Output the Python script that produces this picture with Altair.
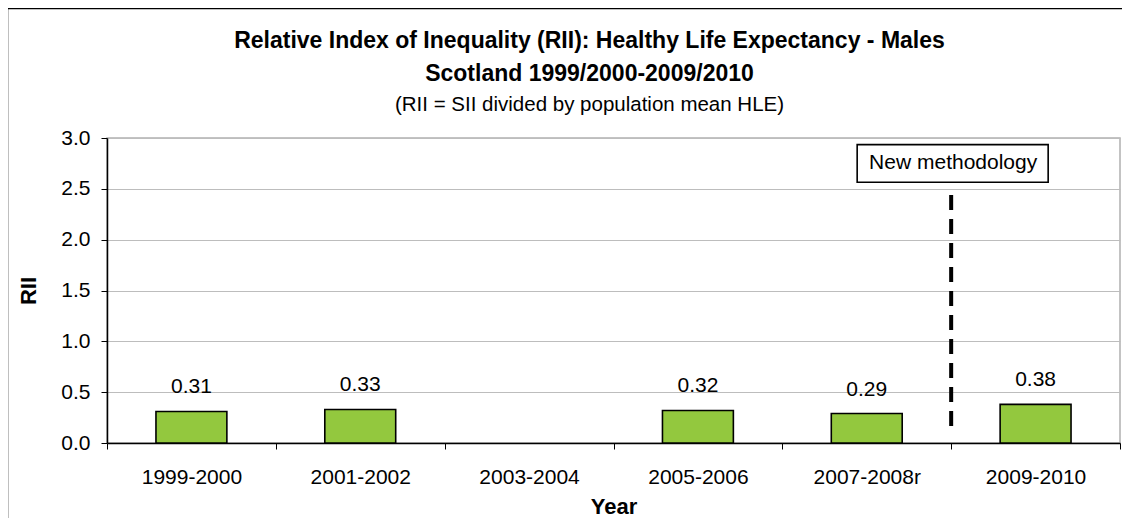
import altair as alt
import pandas as pd

years = ["1999-2000", "2001-2002", "2003-2004", "2005-2006", "2007-2008r", "2009-2010"]
rii = [0.31, 0.33, None, 0.32, 0.29, 0.38]
rii_labels = ["0.31", "0.33", "", "0.32", "0.29", "0.38"]

title_line1 = "Relative Index of Inequality (RII): Healthy Life Expectancy - Males"
title_line2 = "Scotland 1999/2000-2009/2010"
subtitle_text = "(RII = SII divided by population mean HLE)"
method_label = "New methodology"
method_year = "2009-2010"

df = pd.DataFrame({"year": years, "rii": rii, "label": rii_labels})
bars_df = df.dropna(subset=["rii"])

FONT = "Liberation Sans"
W, H = 1013, 305
TITLE_X = 482.5  # centre of the title block, relative to the plot's left edge

xscale = alt.Scale(domain=years, paddingInner=0, paddingOuter=0)
yscale = alt.Scale(domain=[0, 3])

x_enc = alt.X(
    "year:N", scale=xscale, sort=years,
    axis=alt.Axis(
        title="Year", labelAngle=0, tickBand="extent", labelFontSize=21,
        labelFont=FONT, labelColor="black", labelBaseline="alphabetic",
        labelPadding=34, tickSize=6, tickColor="black", domainColor="black",
        domainWidth=1.5, titleFont=FONT, titleFontSize=22, titleFontWeight="bold",
        titleColor="black", titleBaseline="alphabetic", titleY=70, grid=False,
    ),
)
y_enc = alt.Y(
    "rii:Q", scale=yscale,
    axis=alt.Axis(
        title="RII", values=[0, 0.5, 1.0, 1.5, 2.0, 2.5, 3.0], format=".1f",
        labelFontSize=21, labelFont=FONT, labelColor="black", labelPadding=11,
        tickSize=6, tickColor="black", domainColor="black", domainWidth=1.5,
        gridColor="#bdbdbd", gridWidth=1.2, titleFont=FONT, titleFontSize=22,
        titleFontWeight="bold", titleColor="black", titleX=-79, titleY=H / 2,
        titleBaseline="middle", titleAngle=270,
    ),
)

base = alt.Chart(bars_df)

bars = base.mark_bar(
    width=alt.RelativeBandSize(0.42), color="#93C83E", stroke="black", strokeWidth=1.6
).encode(x=x_enc, y=y_enc)

labels = base.mark_text(
    fontSize=21, font=FONT, baseline="alphabetic", dy=-18, color="black"
).encode(x=alt.X("year:N", scale=xscale, sort=years), y=alt.Y("rii:Q", scale=yscale), text="label:N")

mdf = pd.DataFrame({"year": [method_year], "label": [method_label]})
mbase = alt.Chart(mdf)

dash = mbase.mark_rule(strokeDash=[15, 9], strokeWidth=4, color="black").encode(
    x=alt.X("year:N", scale=xscale, sort=years, bandPosition=0),
    y=alt.datum(2.44, scale=yscale),
    y2=alt.datum(0.1),
)

BOX_PATH = "M-1,-0.197L1,-0.197L1,0.197L-1,0.197Z"
box = mbase.mark_point(
    shape=BOX_PATH, size=191 * 191, filled=True, fill="white", stroke="black",
    strokeWidth=1.6, opacity=1, xOffset=1.5,
).encode(
    x=alt.X("year:N", scale=xscale, sort=years, bandPosition=0),
    y=alt.datum(2.75, scale=yscale),
)

box_text = mbase.mark_text(fontSize=21, font=FONT, baseline="middle", color="black", dx=2).encode(
    x=alt.X("year:N", scale=xscale, sort=years, bandPosition=0),
    y=alt.datum(2.75, scale=yscale),
    text="label:N",
)

border = mbase.mark_rect(fill=None, stroke="black", strokeWidth=1.5).encode(
    x=alt.value(-99.5), x2=alt.value(W + 60), y=alt.value(-129.5), y2=alt.value(H + 200)
)

def title_text(line, size, weight, ypos):
    return alt.Chart(pd.DataFrame({"t": [line]})).mark_text(
        font=FONT, fontSize=size, fontWeight=weight, color="black",
        align="center", baseline="alphabetic",
    ).encode(text="t:N", x=alt.value(TITLE_X), y=alt.value(ypos))

t1 = title_text(title_line1, 23, "bold", -90)
t2 = title_text(title_line2, 23, "bold", -57)
t3 = title_text(subtitle_text, 20.5, "normal", -27)

chart = alt.layer(border, bars, labels, dash, box, box_text, t1, t2, t3).properties(
    width=W, height=H,
).configure(
    autosize=alt.AutoSizeParams(type="none"),
    padding={"left": 99, "top": 130, "right": 2, "bottom": 75},
    background="white",
).configure_view(stroke="#b0b0b0", strokeWidth=1.5)

chart.save("out.html", embed_options={"renderer": "svg", "actions": False})
